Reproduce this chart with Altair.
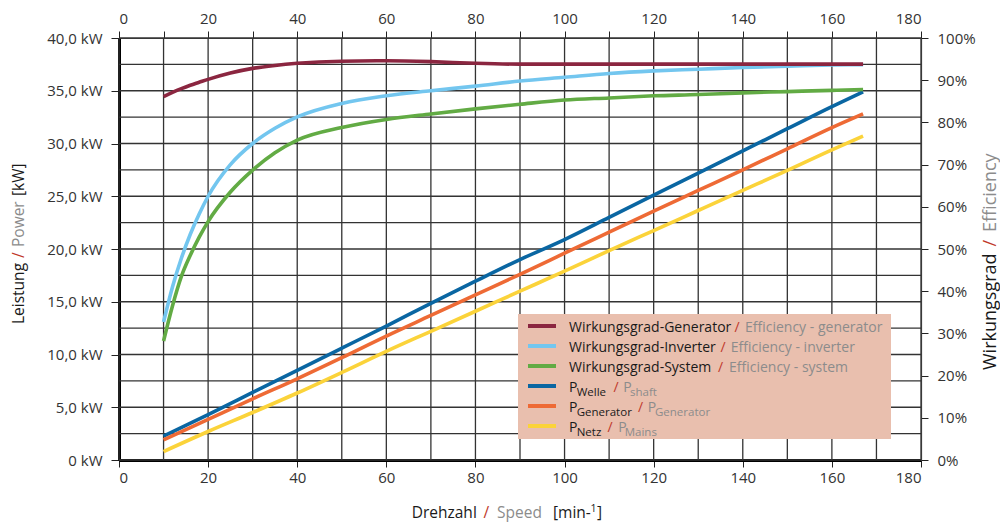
import altair as alt
import pandas as pd

# ---------------- data ----------------
speed_eff = [10, 12, 14, 16, 18, 20, 25, 30, 35, 40, 50, 60, 70, 80, 90, 100, 110, 120, 130, 140, 150, 160, 167]
eta_generator = [86.1, 87.1, 88.0, 88.8, 89.5, 90.2, 91.7, 92.8, 93.5, 94.0, 94.5, 94.6, 94.4, 94.0, 93.8, 93.8, 93.8, 93.8, 93.8, 93.8, 93.8, 93.8, 93.8]
eta_inverter = [32.7, 41.0, 47.8, 53.5, 58.3, 62.5, 70.0, 75.0, 78.6, 81.3, 84.5, 86.3, 87.5, 88.6, 89.8, 90.7, 91.6, 92.2, 92.6, 93.0, 93.3, 93.6, 93.7]
eta_system = [28.2, 36.5, 43.5, 48.5, 52.8, 56.5, 63.5, 68.7, 72.8, 75.8, 78.8, 80.7, 82.0, 83.2, 84.3, 85.3, 85.8, 86.3, 86.6, 87.0, 87.3, 87.6, 87.8]

speed_pow = [10, 20, 30, 40, 50, 60, 70, 80, 90, 100, 110, 120, 130, 140, 150, 160, 167]
p_welle = [2.27, 4.3, 6.4, 8.5, 10.6, 12.7, 14.85, 16.95, 19.0, 20.9, 23.0, 25.1, 27.2, 29.3, 31.4, 33.5, 34.9]
p_generator = [1.9, 3.85, 5.8, 7.7, 9.7, 11.75, 13.7, 15.65, 17.6, 19.6, 21.6, 23.6, 25.55, 27.5, 29.5, 31.5, 32.8]
p_netz = [0.8, 2.7, 4.5, 6.35, 8.3, 10.3, 12.2, 14.1, 16.0, 17.9, 19.85, 21.75, 23.65, 25.55, 27.45, 29.4, 30.7]

series_names = ["eta_gen", "eta_inv", "eta_sys", "p_welle", "p_gen", "p_netz"]
series_colors = ["#8B2640", "#73C6EF", "#62AB44", "#0A66A2", "#EE6A35", "#FBD33A"]

x_ticks_top = list(range(0, 181, 10))
x_ticks_bottom = list(range(0, 181, 20))
kw_ticks = list(range(0, 41, 5))
pct_ticks = list(range(0, 101, 10))
grid_x = list(range(0, 181, 10))
grid_kw = [i * 2.5 for i in range(17)]

FONT = "Open Sans"
BLACK = "#1a1a1a"
GRAY = "#8c8c8c"
RED = "#c0392b"

# ---------------- tables ----------------
eff_df = pd.concat([
    pd.DataFrame({"speed": speed_eff, "val": eta_inverter, "series": "eta_inv", "o": 1}),
    pd.DataFrame({"speed": speed_eff, "val": eta_system, "series": "eta_sys", "o": 2}),
    pd.DataFrame({"speed": speed_eff, "val": eta_generator, "series": "eta_gen", "o": 3}),
])
pow_df = pd.concat([
    pd.DataFrame({"speed": speed_pow, "val": p_welle, "series": "p_welle"}),
    pd.DataFrame({"speed": speed_pow, "val": p_generator, "series": "p_gen"}),
    pd.DataFrame({"speed": speed_pow, "val": p_netz, "series": "p_netz"}),
])

xscale = alt.Scale(domain=[0, 180], nice=False, zero=False)
kwscale = alt.Scale(domain=[0, 40], nice=False, zero=False)
pctscale = alt.Scale(domain=[0, 100], nice=False, zero=False)
cscale = alt.Scale(domain=series_names, range=series_colors)

axis_common = dict(labelFont=FONT, labelFontSize=15, labelColor="#333333",
                   tickColor="#222222", grid=False, title=None)

bottom_axis = alt.Axis(orient="bottom", values=x_ticks_bottom, tickSize=7, domainColor="#000000",
                       domainWidth=3, labelPadding=3, **axis_common)
top_axis = alt.Axis(orient="top", values=x_ticks_top, tickSize=7, domainColor="#444444",
                    domainWidth=1.2, labelPadding=5,
                    labelExpr="datum.value % 20 == 0 ? datum.label : ''", **axis_common)
left_axis = alt.Axis(orient="left", values=kw_ticks, tickSize=8, domainColor="#000000",
                     domainWidth=3, labelPadding=9,
                     labelExpr="datum.value == 0 ? '0 kW' : replace(format(datum.value, '.1f'), '.', ',') + ' kW'",
                     **axis_common)
right_axis = alt.Axis(orient="right", values=pct_ticks, tickSize=7, domainColor="#444444",
                      domainWidth=1.2, labelPadding=9,
                      labelExpr="datum.value + '%'", **axis_common)

grid_v = alt.Chart(pd.DataFrame({"gx": grid_x})).mark_rule(color="#333333", strokeWidth=1.3).encode(
    x=alt.X("gx:Q", scale=xscale, axis=None))
grid_h = alt.Chart(pd.DataFrame({"gy": grid_kw})).mark_rule(color="#333333", strokeWidth=1.3).encode(
    y=alt.Y("gy:Q", scale=kwscale, axis=None))

power = alt.Chart(pow_df).mark_line(strokeWidth=3.6, interpolate="monotone").encode(
    x=alt.X("speed:Q", scale=xscale, axis=bottom_axis),
    y=alt.Y("val:Q", scale=kwscale, axis=left_axis),
    color=alt.Color("series:N", scale=cscale, legend=None),
)

eff = alt.Chart(eff_df).mark_line(strokeWidth=3.6, interpolate="monotone").encode(
    x=alt.X("speed:Q", scale=xscale, axis=top_axis),
    y=alt.Y("val:Q", scale=pctscale, axis=right_axis),
    color=alt.Color("series:N", scale=cscale, legend=None),
    detail="o:N",
)

# ---------------- custom legend ----------------
one = pd.DataFrame({"a": [0]})
legend_box = alt.Chart(one).mark_rect(color="#E9BFAE").encode(
    x=alt.value(399), x2=alt.value(772), y=alt.value(276), y2=alt.value(401))

row_y = [288, 308, 328, 348, 368, 388]
leg_lines = pd.DataFrame({"series": series_names, "ry": row_y})
legend_lines = alt.Chart(leg_lines).mark_rule(strokeWidth=4).encode(
    x=alt.value(409), x2=alt.value(437),
    y=alt.Y("ry:Q", scale=None, axis=None),
    color=alt.Color("series:N", scale=cscale, legend=None),
)

pieces = []
def add(t, x, r, col, sub=False):
    pieces.append({"t": t, "px": x, "py": row_y[r] + 6 + (4 if sub else 0), "col": col,
                   "fs": 11.5 if sub else 14})

add("Wirkungsgrad-Generator", 450, 0, BLACK); add("/", 615.5, 0, RED); add("Efficiency - generator", 626, 0, GRAY)
add("Wirkungsgrad-Inverter", 450, 1, BLACK); add("/", 601.5, 1, RED); add("Efficiency - inverter", 611.7, 1, GRAY)
add("Wirkungsgrad-System", 450, 2, BLACK); add("/", 599, 2, RED); add("Efficiency - system", 610, 2, GRAY)
add("P", 450, 3, BLACK); add("Welle", 457.7, 3, BLACK, True); add("/", 494.5, 3, RED)
add("P", 504.3, 3, GRAY); add("shaft", 511, 3, GRAY, True)
add("P", 450, 4, BLACK); add("Generator", 457.7, 4, BLACK, True); add("/", 519, 4, RED)
add("P", 528.7, 4, GRAY); add("Generator", 536, 4, GRAY, True)
add("P", 450, 5, BLACK); add("Netz", 457.7, 5, BLACK, True); add("/", 488.5, 5, RED)
add("P", 499.3, 5, GRAY); add("Mains", 505.7, 5, GRAY, True)

# bottom axis title pieces
TB = 480
for t, x, col, fs, dy in [("Drehzahl", 292.7, BLACK, 15.5, 0), ("/", 364.5, RED, 15.5, 0),
                          ("Speed", 378, GRAY, 15.5, 0), ("[min-", 434, BLACK, 15.5, 0),
                          ("1", 471.5, BLACK, 10.5, -6), ("]", 478, BLACK, 15.5, 0)]:
    pieces.append({"t": t, "px": x, "py": TB + dy, "col": col, "fs": fs})

text_df = pd.DataFrame(pieces)
legend_text = alt.Chart(text_df).mark_text(align="left", baseline="alphabetic", font=FONT).encode(
    x=alt.X("px:Q", scale=None, axis=None),
    y=alt.Y("py:Q", scale=None, axis=None),
    text="t:N",
    color=alt.Color("col:N", scale=None),
    size=alt.Size("fs:Q", scale=None),
)

# rotated axis titles
vt = []
for t, y, col in [("Leistung", 286, BLACK), ("/", 220, RED), ("Power", 209, GRAY), ("[kW]", 158, BLACK)]:
    vt.append({"t": t, "px": -95, "py": y, "col": col, "fs": 15.5})
for t, y, col in [("Wirkungsgrad", 332, BLACK), ("/", 208.5, RED), ("Efficiency", 194, GRAY)]:
    vt.append({"t": t, "px": 877, "py": y, "col": col, "fs": 18})
vtitle = alt.Chart(pd.DataFrame(vt)).mark_text(align="left", baseline="alphabetic", font=FONT,
                                               angle=270).encode(
    x=alt.X("px:Q", scale=None, axis=None),
    y=alt.Y("py:Q", scale=None, axis=None),
    text="t:N",
    color=alt.Color("col:N", scale=None),
    size=alt.Size("fs:Q", scale=None),
)

chart = alt.layer(grid_v, grid_h, power, eff, legend_box, legend_lines, legend_text, vtitle).resolve_scale(
    y="independent"
).resolve_axis(
    x="independent", y="independent"
).properties(
    width=802, height=422,
    autosize=alt.AutoSizeParams(type="none"),
    padding={"left": 111, "top": 30, "right": 79, "bottom": 64},
    background="white",
).configure_view(stroke=None).configure(font=FONT)

chart.save("out.html", embed_options={"renderer": "svg", "actions": False})
